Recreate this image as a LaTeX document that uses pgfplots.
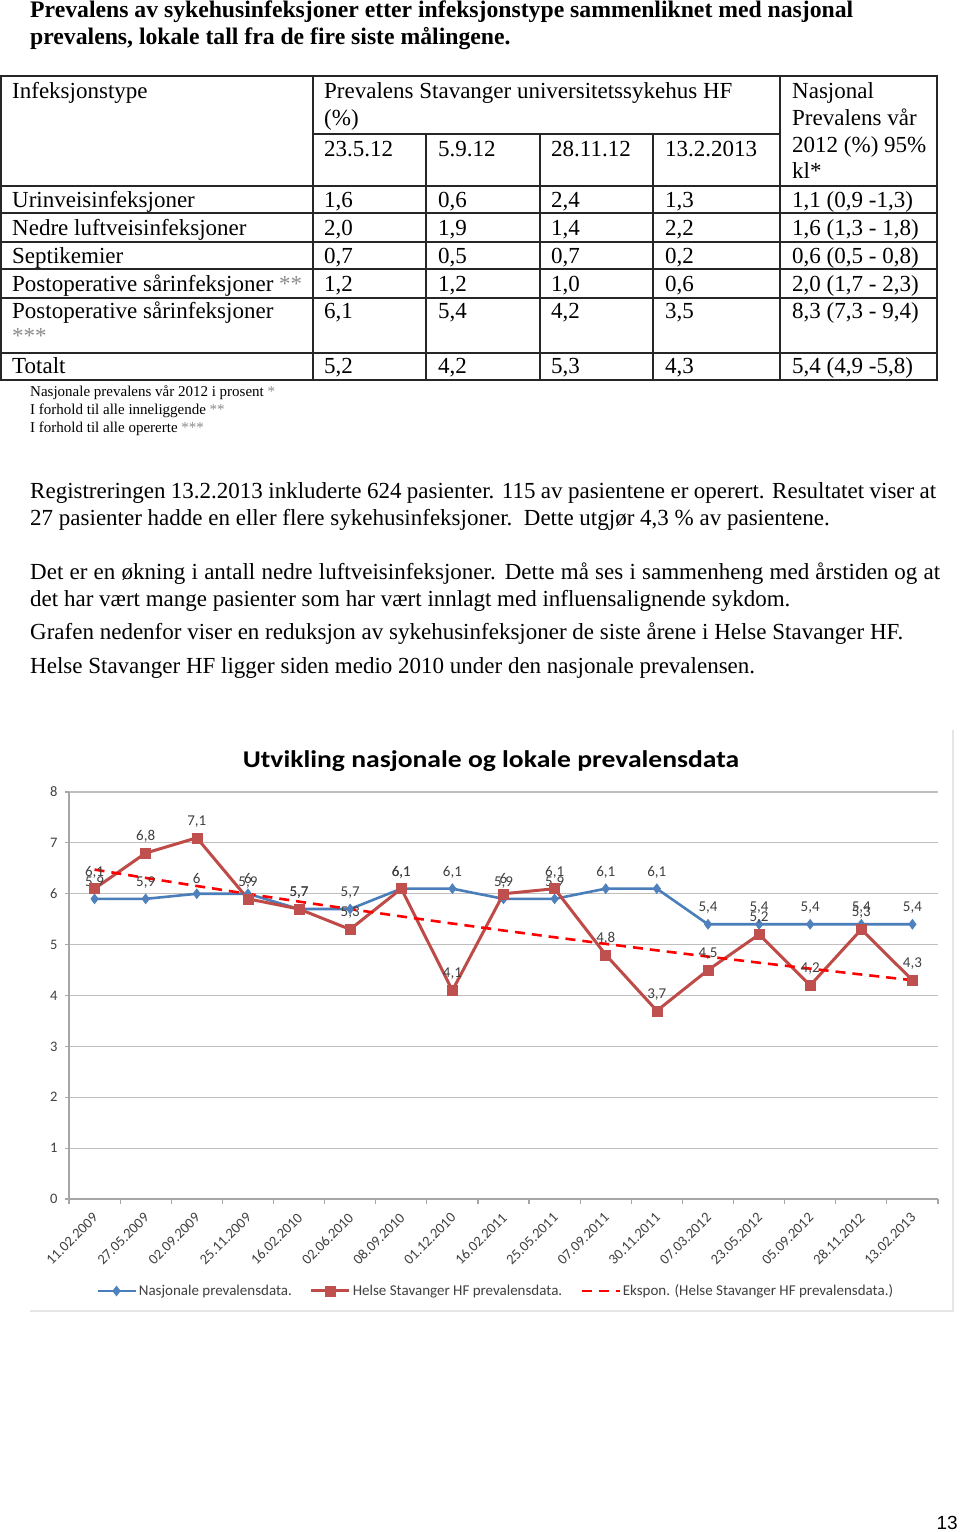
\documentclass[border=0pt]{standalone}
\usepackage{fontspec}
\setmainfont{Liberation Serif}
\newfontfamily\calibri{Carlito}
\newfontfamily\arialf{Liberation Sans}
\usepackage{pgfplots}
\pgfplotsset{compat=1.18}
\usepackage{pgfplotstable}
\definecolor{natblue}{HTML}{4A7EBB}
\definecolor{natbluem}{HTML}{4F81BD}
\definecolor{hsred}{HTML}{BE4B48}
\definecolor{hsredm}{HTML}{C0504D}
\definecolor{trendred}{HTML}{FF0000}
\definecolor{txtgray}{HTML}{404040}
\definecolor{gridgray}{HTML}{BFBFBF}
\definecolor{stargray}{HTML}{8C8C8C}

\pgfplotstableread{
x nat hs trend
0 5.9 6.1 6.475
1 5.9 6.8 6.312
2 6.0 7.1 6.153
3 6.0 5.9 5.998
4 5.7 5.7 5.846
5 5.7 5.3 5.699
6 6.1 6.1 5.555
7 6.1 4.1 5.415
8 5.9 6.0 5.278
9 5.9 6.1 5.145
10 6.1 4.8 5.015
11 6.1 3.7 4.888
12 5.4 4.5 4.765
13 5.4 5.2 4.645
14 5.4 4.2 4.528
15 5.4 5.3 4.413
16 5.4 4.3 4.301
}\prevdata

\newcommand{\bodyfont}{\fontsize{23pt}{27pt}\selectfont}
\newcommand{\T}[3]{\node[anchor=base west,inner sep=0,font=\bodyfont] at (#1pt,-#2pt) {#3};}
\newcommand{\st}[1]{{\color{stargray}#1}}

\begin{document}
\begin{tikzpicture}
\path[use as bounding box, fill=white] (0pt,0pt) rectangle (960pt,-1532pt);

\begin{axis}[
  at={(69pt,-1199pt)}, anchor=south west,
  scale only axis, width=869pt, height=407pt,
  xmin=-0.5, xmax=16.5, ymin=0, ymax=8,
  enlargelimits=false, clip=false,
  axis x line=bottom, axis y line=left,
  every outer x axis line/.append style={-},
  every outer y axis line/.append style={-},
  axis line style={draw=gray!70, line width=1.2pt},
  xtick={0,...,16},
  xticklabels={11.02.2009,27.05.2009,02.09.2009,25.11.2009,16.02.2010,02.06.2010,08.09.2010,01.12.2010,16.02.2011,25.05.2011,07.09.2011,30.11.2011,07.03.2012,23.05.2012,05.09.2012,28.11.2012,13.02.2013},
  minor xtick={-0.5,0.5,...,16.5},
  ytick={0,...,8},
  tick align=outside,
  major x tick style={draw=none},
  minor x tick style={draw=gray!70, line width=1.2pt},
  minor tick length=5pt,
  major tick length=4pt,
  y tick style={draw=gray!70, line width=1.2pt},
  ymajorgrids,
  grid style={gridgray, line width=1.2pt},
  x tick label style={xshift=3.3pt, yshift=-10pt, rotate=45, anchor=east, font=\calibri\fontsize{14.5pt}{14.5pt}\selectfont, text=txtgray},
  y tick label style={font=\calibri\fontsize{14.5pt}{14.5pt}\selectfont, text=txtgray, xshift=-4pt},
  /pgf/number format/assume math mode=true,
  legend style={at={(0.491,-0.226)}, anchor=center, draw=none, fill=none,
    font=\calibri\fontsize{15pt}{15pt}\selectfont, text=txtgray,
    /tikz/every even column/.append style={column sep=16pt}},
  legend columns=3,
  legend image code/.code={\draw[mark repeat=2,mark phase=2] plot coordinates {(0pt,0pt) (19pt,0pt) (38pt,0pt)};},
  every node near coord/.append style={font=\calibri\fontsize{15pt}{15pt}\selectfont, text=txtgray, yshift=7pt},
]
\addplot[natblue, line width=2.6pt, mark=diamond*, mark size=5pt, mark options={natbluem, solid, line width=0.5pt},
  nodes near coords={\pgfmathprintnumber[use comma,assume math mode=true]{\pgfplotspointmeta}}] table[x=x,y=nat]{\prevdata};
\addlegendentry{Nasjonale prevalensdata.}
\addplot[hsred, line width=3pt, mark=square*, mark size=5pt, mark options={hsredm, solid, line width=0.5pt},
  nodes near coords={\pgfmathprintnumber[use comma,assume math mode=true]{\pgfplotspointmeta}}] table[x=x,y=hs]{\prevdata};
\addlegendentry{Helse Stavanger HF prevalensdata.}
\addplot[trendred, line width=2.6pt, dash pattern=on 10pt off 7pt, mark=none] table[x=x,y=trend]{\prevdata};
\addlegendentry{Ekspon. (Helse Stavanger HF prevalensdata.)}
\end{axis}

\begin{scope}[x=1pt,y=1pt]
% document title
\node[anchor=base west,inner sep=0,font=\fontsize{23.7pt}{27pt}\selectfont\bfseries] at (30,-17) {Prevalens av sykehusinfeksjoner etter infeksjonstype sammenliknet med nasjonal};
\node[anchor=base west,inner sep=0,font=\fontsize{23.7pt}{27pt}\selectfont\bfseries] at (30,-44) {prevalens, lokale tall fra de fire siste målingene.};

% table grid
\begin{scope}[line width=1.3pt, black!85]
\draw (1,-76) rectangle (937,-380);
\draw (313,-134) -- (780,-134);
\foreach \yy in {186,213,242,269,298,353} {\draw (1,-\yy) -- (937,-\yy);}
\draw (313,-76) -- (313,-380);
\draw (780,-76) -- (780,-380);
\foreach \xx in {426,540,653} {\draw (\xx,-134) -- (\xx,-380);}
\end{scope}

% table text
\T{12}{98}{Infeksjonstype}
\T{324}{98}{Prevalens Stavanger universitetssykehus HF}
\T{324}{125}{(\%)}
\T{324}{156}{23.5.12}
\T{438}{156}{5.9.12}
\T{551}{156}{28.11.12}
\T{665}{156}{13.2.2013}
\T{792}{98}{Nasjonal}
\T{792}{125}{Prevalens vår}
\T{792}{152}{2012 (\%) 95\%}
\T{792}{178}{kl*}

\T{12}{207}{Urinveisinfeksjoner}
\T{324}{207}{1,6}\T{438}{207}{0,6}\T{551}{207}{2,4}\T{665}{207}{1,3}\T{792}{207}{1,1 (0,9 -1,3)}
\T{12}{235}{Nedre luftveisinfeksjoner}
\T{324}{235}{2,0}\T{438}{235}{1,9}\T{551}{235}{1,4}\T{665}{235}{2,2}\T{792}{235}{1,6 (1,3 - 1,8)}
\T{12}{263}{Septikemier}
\T{324}{263}{0,7}\T{438}{263}{0,5}\T{551}{263}{0,7}\T{665}{263}{0,2}\T{792}{263}{0,6 (0,5 - 0,8)}
\T{12}{291}{Postoperative sårinfeksjoner \st{**}}
\T{324}{291}{1,2}\T{438}{291}{1,2}\T{551}{291}{1,0}\T{665}{291}{0,6}\T{792}{291}{2,0 (1,7 - 2,3)}
\T{12}{318}{Postoperative sårinfeksjoner}
\T{12}{343}{\st{***}}
\T{324}{318}{6,1}\T{438}{318}{5,4}\T{551}{318}{4,2}\T{665}{318}{3,5}\T{792}{318}{8,3 (7,3 - 9,4)}
\T{12}{373}{Totalt}
\T{324}{373}{5,2}\T{438}{373}{4,2}\T{551}{373}{5,3}\T{665}{373}{4,3}\T{792}{373}{5,4 (4,9 -5,8)}

% footnotes
\begin{scope}[every node/.style={anchor=base west,inner sep=0,font=\fontsize{15pt}{17pt}\selectfont}]
\node at (30,-396) {Nasjonale prevalens vår 2012 i prosent \st{*}};
\node at (30,-414) {I forhold til alle inneliggende \st{**}};
\node at (30,-432) {I forhold til alle opererte \st{***}};
\end{scope}

% paragraphs
\node[anchor=base west,inner sep=0,font=\bodyfont] at (30,-498) {\hbox to 906pt{Registreringen 13.2.2013 inkluderte 624 pasienter. 115 av pasientene er operert. Resultatet viser at}};
\T{30}{525}{27 pasienter hadde en eller flere sykehusinfeksjoner.\ \ Dette utgjør 4,3 \% av pasientene.}
\node[anchor=base west,inner sep=0,font=\bodyfont] at (30,-579) {\hbox to 910pt{Det er en økning i antall nedre luftveisinfeksjoner. Dette må ses i sammenheng med årstiden og at}};
\T{30}{606}{det har vært mange pasienter som har vært innlagt med influensalignende sykdom.}
\T{30}{639}{Grafen nedenfor viser en reduksjon av sykehusinfeksjoner de siste årene i Helse Stavanger HF.}
\T{30}{673}{Helse Stavanger HF ligger siden medio 2010 under den nasjonale prevalensen.}

% chart frame
\draw[black!10, line width=1.2pt] (953,-730) -- (953,-1311) -- (30,-1311);

% chart title
\node[anchor=base,inner sep=0,font=\calibri\bfseries\fontsize{24pt}{26pt}\selectfont] at (491,-767) {\scalebox{1.15}[1]{Utvikling nasjonale og lokale prevalensdata}};

% page number
\node[anchor=base east,inner sep=0,font=\arialf\fontsize{19pt}{20pt}\selectfont] at (958,-1529) {13};
\end{scope}
\end{tikzpicture}
\end{document}
